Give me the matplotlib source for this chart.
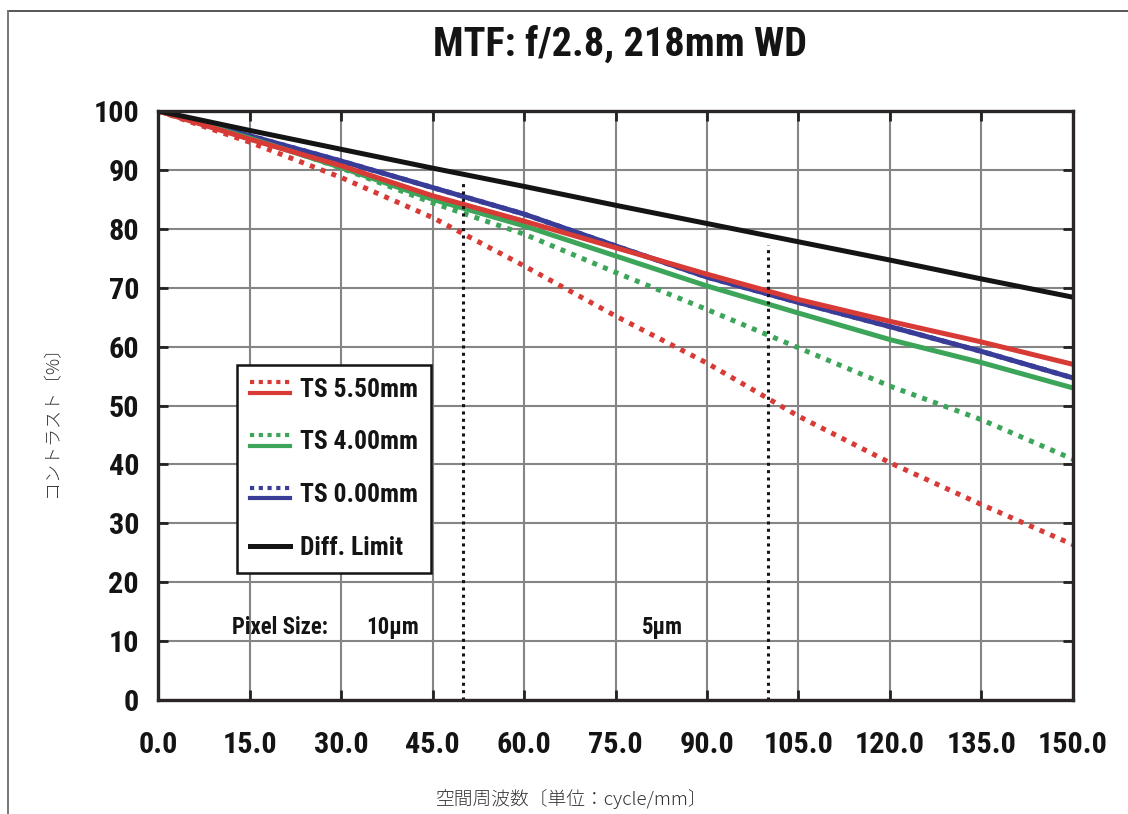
import numpy as np
import matplotlib.pyplot as plt
from matplotlib import font_manager as fm
from matplotlib.lines import Line2D
from matplotlib.legend_handler import HandlerBase

# spatial frequency (cycle/mm) and contrast (%)
freq = [0, 15, 30, 45, 60, 75, 90, 105, 120, 135, 150]
diff_limit = [100, 96.7, 93.5, 90.3, 87.2, 84.0, 80.9, 77.8, 74.7, 71.5, 68.4]
ts550_s = [100, 95.2, 90.7, 85.6, 81.3, 76.8, 72.3, 68.0, 64.3, 60.8, 57.0]
ts550_t = [100, 94.7, 88.7, 81.9, 73.7, 65.2, 57.2, 48.2, 40.3, 33.2, 26.4]
ts400_s = [100, 95.4, 90.4, 85.0, 80.5, 75.4, 70.3, 65.7, 61.2, 57.3, 53.0]
ts400_t = [100, 95.6, 90.3, 84.4, 79.1, 72.6, 66.3, 59.8, 53.3, 47.6, 40.9]
ts000_s = [100, 95.8, 91.5, 87.0, 82.5, 77.1, 71.8, 67.5, 63.4, 59.2, 54.7]
ts000_t = [100, 95.8, 91.5, 87.0, 82.5, 77.1, 71.8, 67.5, 63.4, 59.2, 54.7]

labels = ['TS 5.50mm', 'TS 4.00mm', 'TS 0.00mm', 'Diff. Limit']
pixel_freq = [50, 100]
pixel_labels = ['10µm', '5µm']
x_ticks = np.arange(0, 151, 15)
y_ticks = np.arange(0, 101, 10)

RED = '#d83a36'
GREEN = '#3da559'
BLUE = '#3a3d98'
BLACK = '#141414'
CJK = ['Noto Sans CJK JP', 'DejaVu Sans']
DOT = (0, (1.0, 1.3))
LDOT = (0, (1.0, 1.1))

# pick a condensed bold face if one is installed
avail = {f.name for f in fm.fontManager.ttflist}
prefs = ['Noto Sans ExtraCondensed', 'Liberation Sans Narrow', 'Roboto Condensed',
         'Noto Sans Condensed', 'Open Sans Condensed', 'DejaVu Sans Condensed',
         'Noto Sans SemiCondensed']
narrow = next((n for n in prefs if n in avail), None)
if narrow is None:
    narrow = next((n for n in sorted(avail) if 'Condensed' in n or 'Narrow' in n),
                  'DejaVu Sans')
NARROW = [narrow, 'DejaVu Sans']


class StackedHandler(HandlerBase):
    # dotted line drawn just above the solid one, like the original legend
    def create_artists(self, legend, orig_handle, xdescent, ydescent,
                       width, height, fontsize, trans):
        yc = (height - ydescent) / 2
        x = [-xdescent, -xdescent + width]
        color = orig_handle.get_color()
        solid = Line2D(x, [yc - 0.2 * fontsize] * 2, color=color, linewidth=3)
        dotted = Line2D(x, [yc + 0.22 * fontsize] * 2, color=color, linewidth=3,
                        linestyle=LDOT)
        for ln in (solid, dotted):
            ln.set_transform(trans)
        return [solid, dotted]


fig = plt.figure(figsize=(11.28, 8.14), dpi=100)
renderer = fig.canvas.get_renderer()


def fit_size(s, target_px, max_size):
    t = fig.text(0, 0, s, family=NARROW, fontweight='bold', fontsize=20)
    w = t.get_window_extent(renderer).width
    t.remove()
    return min(max_size, 20 * target_px / w)


tick_fs = fit_size('150.0', 70, 24)
title_fs = fit_size('MTF: f/2.8, 218mm WD', 375, 32)
leg_fs = fit_size('TS 5.50mm', 118, 22)
pix_fs = fit_size('Pixel Size:', 96, 22)

ax = fig.add_axes([0.1405, 0.14, 0.8105, 0.7236])

lw = 3.6
ax.plot(freq, ts000_t, color=BLUE, lw=lw, ls=DOT)
ax.plot(freq, ts400_t, color=GREEN, lw=lw, ls=DOT)
ax.plot(freq, ts550_t, color=RED, lw=lw, ls=DOT)
ax.plot(freq, ts000_s, color=BLUE, lw=lw)
ax.plot(freq, ts400_s, color=GREEN, lw=lw)
ax.plot(freq, ts550_s, color=RED, lw=lw)
ax.plot(freq, diff_limit, color=BLACK, lw=lw)

# pixel size markers
for f in pixel_freq:
    top = np.interp(f, freq, diff_limit) - 1.5
    ax.plot([f, f], [0, top], color=BLACK, lw=2.2, ls=(0, (1.0, 1.4)))

txt = dict(family=NARROW, fontweight='bold', fontsize=pix_fs, color=BLACK, va='center')
ax.text(12, 12.4, 'Pixel Size:', ha='left', **txt)
ax.text(42.7, 12.4, pixel_labels[0], ha='right', **txt)
ax.text(86, 12.4, pixel_labels[1], ha='right', **txt)

ax.set_xlim(0, 150)
ax.set_ylim(0, 100)
ax.set_xticks(x_ticks)
ax.set_yticks(y_ticks)
ax.set_xticklabels([f'{t:.1f}' for t in x_ticks])
ax.set_yticklabels([str(t) for t in y_ticks])
for lab in ax.get_xticklabels() + ax.get_yticklabels():
    lab.set_family(NARROW)
    lab.set_fontweight('bold')
    lab.set_fontsize(tick_fs)
    lab.set_color(BLACK)

ax.grid(True, color='#858585', linewidth=1.5)
ax.set_axisbelow(True)
ax.tick_params(direction='in', length=7, width=2, color='#222222',
               top=True, right=True)
ax.tick_params(axis='x', pad=22)
ax.tick_params(axis='y', pad=14)
for sp in ax.spines.values():
    sp.set_linewidth(2.4)
    sp.set_color('#2a2626')

# legend
h_black = Line2D([], [], color=BLACK, lw=3.6)
handles = [Line2D([], [], color=RED), Line2D([], [], color=GREEN),
           Line2D([], [], color=BLUE), h_black]
stacked = StackedHandler()
leg = ax.legend(handles, labels,
                handler_map={handles[0]: stacked, handles[1]: stacked,
                             handles[2]: stacked},
                loc='upper left', bbox_to_anchor=(0.086, 0.569),
                borderaxespad=0, fancybox=False, framealpha=1,
                handlelength=1.55, handletextpad=0.4, labelspacing=1.12,
                borderpad=0.5,
                prop={'family': NARROW, 'weight': 'bold', 'size': leg_fs})
leg.get_frame().set_edgecolor(BLACK)
leg.get_frame().set_linewidth(1.8)
for t in leg.get_texts():
    t.set_color(BLACK)

fig.text(0.55, 0.945, 'MTF: f/2.8, 218mm WD', ha='center', va='center',
         family=NARROW, fontweight='bold', fontsize=title_fs, color=BLACK)
fig.text(0.046, 0.488, 'コントラスト〔%〕', rotation=90, ha='center', va='center',
         family=CJK, fontsize=13, fontweight='light', color='#333333')
fig.text(0.507, 0.019, '空間周波数〔単位：cycle/mm〕', ha='center', va='center',
         family=CJK, fontsize=13.5, fontweight='light', color='#333333')

# outer frame (top and left edges only)
fig.add_artist(Line2D([0.007, 1.0], [0.9865, 0.9865], transform=fig.transFigure,
                      color='#555555', lw=1.4))
fig.add_artist(Line2D([0.007, 0.007], [0.0, 0.9865], transform=fig.transFigure,
                      color='#777777', lw=1.4))

fig.savefig('out.png', dpi=100)
